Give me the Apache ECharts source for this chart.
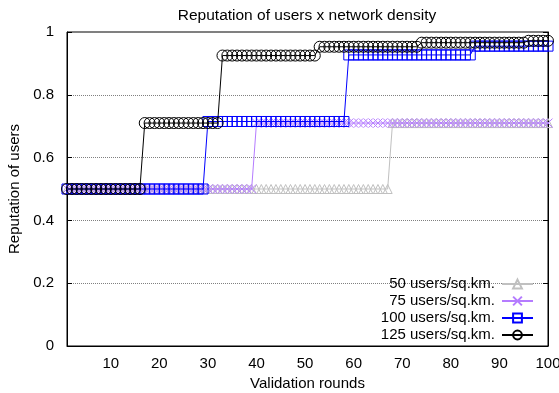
<!DOCTYPE html>
<html>
<head>
<meta charset="utf-8">
<script src="https://cdn.jsdelivr.net/npm/echarts@6/dist/echarts.min.js"></script>
<style>html,body{margin:0;padding:0;background:#fff}#c{width:559px;height:393px}</style>
</head>
<body>
<div id="c"></div>
<script>
// Validation rounds 1..100 (x position = index + 1)
const seriesNames = ['50 users/sq.km.', '75 users/sq.km.', '100 users/sq.km.', '125 users/sq.km.'];
const xTickLabels = [10, 20, 30, 40, 50, 60, 70, 80, 90, 100];
const yTickLabels = [0, 0.2, 0.4, 0.6, 0.8, 1];

const users50 = [
  0.5,0.5,0.5,0.5,0.5,0.5,0.5,0.5,0.5,0.5,
  0.5,0.5,0.5,0.5,0.5,0.5,0.5,0.5,0.5,0.5,
  0.5,0.5,0.5,0.5,0.5,0.5,0.5,0.5,0.5,0.5,
  0.5,0.5,0.5,0.5,0.5,0.5,0.5,0.5,0.5,0.5,
  0.5,0.5,0.5,0.5,0.5,0.5,0.5,0.5,0.5,0.5,
  0.5,0.5,0.5,0.5,0.5,0.5,0.5,0.5,0.5,0.5,
  0.5,0.5,0.5,0.5,0.5,0.5,0.5,0.71,0.71,0.71,
  0.71,0.71,0.71,0.71,0.71,0.71,0.71,0.71,0.71,0.71,
  0.71,0.71,0.71,0.71,0.71,0.71,0.71,0.71,0.71,0.71,
  0.71,0.71,0.71,0.71,0.71,0.71,0.71,0.71,0.71,0.71
];
const users75 = [
  0.5,0.5,0.5,0.5,0.5,0.5,0.5,0.5,0.5,0.5,
  0.5,0.5,0.5,0.5,0.5,0.5,0.5,0.5,0.5,0.5,
  0.5,0.5,0.5,0.5,0.5,0.5,0.5,0.5,0.5,0.5,
  0.5,0.5,0.5,0.5,0.5,0.5,0.5,0.5,0.5,0.71,
  0.71,0.71,0.71,0.71,0.71,0.71,0.71,0.71,0.71,0.71,
  0.71,0.71,0.71,0.71,0.71,0.71,0.71,0.71,0.71,0.71,
  0.71,0.71,0.71,0.71,0.71,0.71,0.71,0.71,0.71,0.71,
  0.71,0.71,0.71,0.71,0.71,0.71,0.71,0.71,0.71,0.71,
  0.71,0.71,0.71,0.71,0.71,0.71,0.71,0.71,0.71,0.71,
  0.71,0.71,0.71,0.71,0.71,0.71,0.71,0.71,0.71,0.71
];
const users100 = [
  0.5,0.5,0.5,0.5,0.5,0.5,0.5,0.5,0.5,0.5,
  0.5,0.5,0.5,0.5,0.5,0.5,0.5,0.5,0.5,0.5,
  0.5,0.5,0.5,0.5,0.5,0.5,0.5,0.5,0.5,0.715,
  0.715,0.715,0.715,0.715,0.715,0.715,0.715,0.715,0.715,0.715,
  0.715,0.715,0.715,0.715,0.715,0.715,0.715,0.715,0.715,0.715,
  0.715,0.715,0.715,0.715,0.715,0.715,0.715,0.715,0.927,0.927,
  0.927,0.927,0.927,0.927,0.927,0.927,0.927,0.927,0.927,0.927,
  0.927,0.927,0.927,0.927,0.927,0.927,0.927,0.927,0.927,0.927,
  0.927,0.927,0.927,0.927,0.955,0.955,0.955,0.955,0.955,0.955,
  0.955,0.955,0.955,0.955,0.955,0.955,0.955,0.955,0.955,0.955
];
const users125 = [
  0.5,0.5,0.5,0.5,0.5,0.5,0.5,0.5,0.5,0.5,
  0.5,0.5,0.5,0.5,0.5,0.5,0.71,0.71,0.71,0.71,
  0.71,0.71,0.71,0.71,0.71,0.71,0.71,0.71,0.71,0.71,
  0.71,0.71,0.925,0.925,0.925,0.925,0.925,0.925,0.925,0.925,
  0.925,0.925,0.925,0.925,0.925,0.925,0.925,0.925,0.925,0.925,
  0.925,0.925,0.953,0.953,0.953,0.953,0.953,0.953,0.953,0.953,
  0.953,0.953,0.953,0.953,0.953,0.953,0.953,0.953,0.953,0.953,
  0.953,0.953,0.953,0.966,0.966,0.966,0.966,0.966,0.966,0.966,
  0.966,0.966,0.966,0.966,0.966,0.966,0.966,0.966,0.966,0.966,
  0.966,0.966,0.966,0.966,0.966,0.972,0.972,0.972,0.972,0.972
];

const allValues = [users50, users75, users100, users125];
const colors = ['#c0c0c0', '#b57cff', '#0000ff', '#000000'];
const symbols = ['triangle', 'path://M0,0L10,10M10,0L0,10', 'rect', 'circle'];
const sizes = [9, 9, 10, 11];

const FONT = '"Liberation Sans", Arial, sans-serif';

const chart = echarts.init(document.getElementById('c'), null, {renderer: 'canvas'});

const series = allValues.map((vals, k) => ({
  name: seriesNames[k],
  type: 'line',
  data: vals.map((v, i) => [i + 1, v]),
  symbol: symbols[k],
  symbolSize: sizes[k],
  showAllSymbol: true,
  animation: false,
  lineStyle: {color: colors[k], width: 1},
  itemStyle: {color: 'rgba(255,255,255,0)', borderColor: colors[k], borderWidth: 1},
  emphasis: {disabled: true},
  z: 2 + k
}));

chart.setOption({
  animation: false,
  backgroundColor: '#fff',
  title: {
    text: 'Reputation of users x network density',
    left: 307, top: 8, textAlign: 'center', padding: 0,
    textStyle: {fontFamily: FONT, fontSize: 15.5, fontWeight: 'normal', color: '#000'}
  },
  grid: {left: 67, right: 11, top: 32, bottom: 47, show: true, borderColor: '#000', borderWidth: 1,
    backgroundColor: 'transparent', containLabel: false, outerBoundsMode: 'none'},
  legend: {
    orient: 'vertical', right: 25, top: 276.5, align: 'right', padding: 0,
    itemWidth: 31, itemHeight: 11, itemGap: 2,
    textStyle: {fontFamily: FONT, fontSize: 15, color: '#000', padding: [0, 2, 0, 0]},
    data: seriesNames
  },
  xAxis: {
    type: 'value', min: 1, max: 100,
    name: 'Validation rounds', nameLocation: 'middle', nameGap: 30,
    nameTextStyle: {fontFamily: FONT, fontSize: 15, color: '#000'},
    axisLine: {lineStyle: {color: '#000', width: 1}},
    axisTick: {show: false},
    splitLine: {show: false},
    axisLabel: {customValues: xTickLabels, fontFamily: FONT, fontSize: 15, color: '#000', margin: 10}
  },
  yAxis: [{
    type: 'value', min: 0, max: 1, interval: 0.1,
    name: 'Reputation of users', nameLocation: 'middle', nameGap: 40, nameRotate: 90,
    nameTextStyle: {fontFamily: FONT, fontSize: 15, color: '#000'},
    axisLine: {lineStyle: {color: '#000', width: 1}},
    axisTick: {show: true, inside: true, length: 5, lineStyle: {color: '#000'}, customValues: yTickLabels},
    splitLine: {show: true, lineStyle: {color: '#808080', type: [1, 1], width: 1}},
    axisLabel: {customValues: yTickLabels, fontFamily: FONT, fontSize: 15, color: '#000', margin: 13,
      formatter: v => String(v)}
  }, {
    type: 'value', min: 0, max: 1, position: 'right',
    axisLine: {show: true, lineStyle: {color: '#000'}},
    axisTick: {show: true, inside: true, length: 5, lineStyle: {color: '#000'}, customValues: yTickLabels},
    axisLabel: {show: false},
    splitLine: {show: false}
  }],
  series: series
});
</script>
</body>
</html>
